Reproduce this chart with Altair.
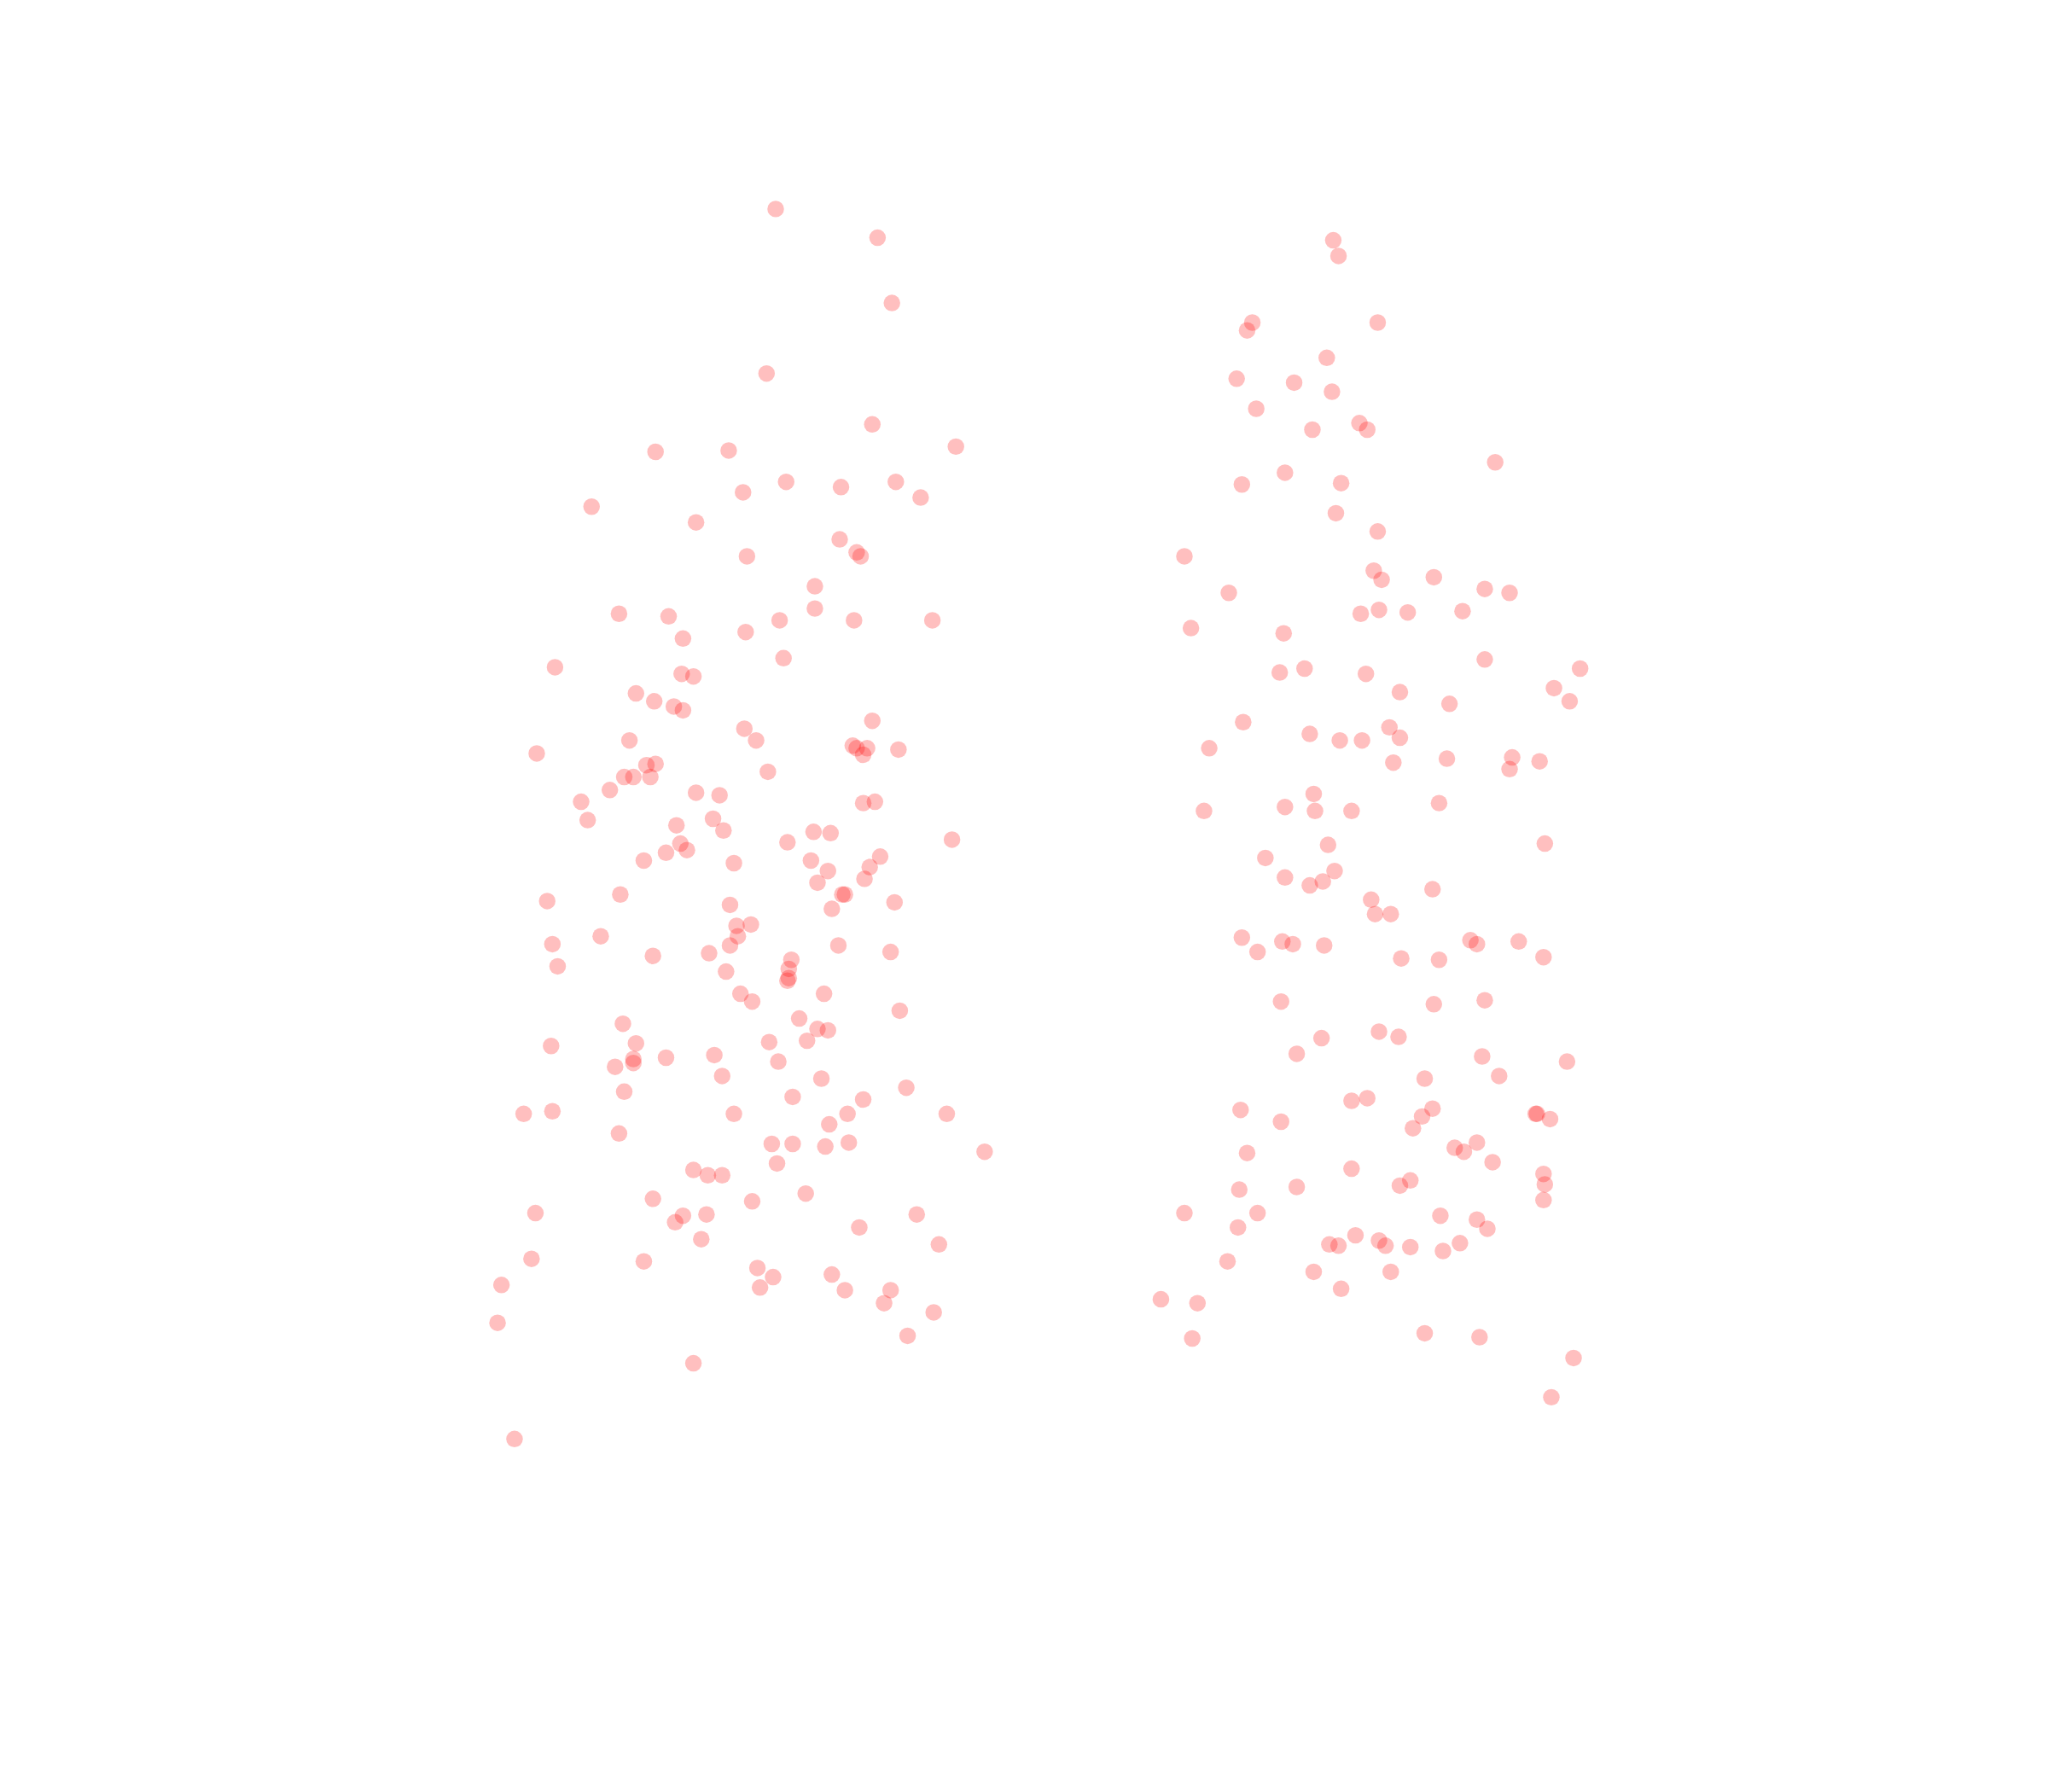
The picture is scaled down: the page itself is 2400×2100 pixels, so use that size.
import altair as alt
import pandas as pd

# Group A: (jitter, value)
A_JITTER = [26,104,115,19,100,-66,-10,164,34,1,76,118,137,-115,-35,75,88,91,4,56,
            -94,-56,29,56,86,146,-45,3,32,-143,-46,-37,-81,-67,-52,-45,2,11,100,-86,
            85,88,93,96,120,-157,-73,-66,-90,-83,-70,20,-101,-35,-17,-123,93,102,-118,-22,
            -14,-50,55,68,161,35,-47,-58,-42,-75,53,106,-6,66,98,94,58,-93,77,79,
            -149,-9,117,69,7,-4,-3,-108,-145,-9,74,114,-25,-68,38,-141,36,-12,35,36,
            -1,63,8,121,44,-91,58,66,-81,-146,21,50,-21,-58,-83,28,-83,-97,-15,61,
            -90,126,39,93,-167,-145,-6,81,157,67,-94,23,39,64,82,186,27,-37,-26,-15,
            49,-68,8,-158,-45,-27,134,-51,90,-31,151,-161,-75,12,24,69,-184,14,79,114,
            109,147,-187,127,-37,-174]
A_VALUE = [107.1,104.9,99.9,94.5,90.6,88.5,88.6,88.9,86.2,85.4,85.8,86.2,85.0,84.3,83.1,81.8,80.8,80.5,80.5,78.2,
           76.1,75.9,75.6,76.5,75.6,75.6,74.2,74.7,72.7,72.0,71.5,71.3,70.0,69.4,69.0,68.7,67.3,66.4,67.9,66.4,
           66.0,65.8,65.3,65.8,65.7,65.4,64.5,64.6,63.6,63.6,63.6,64.0,62.6,62.4,62.2,61.7,61.6,61.7,60.3,60.4,
           59.5,59.9,59.4,59.3,58.8,58.6,58.5,57.8,58.0,57.2,57.2,57.5,57.0,56.4,56.7,55.8,55.5,54.6,54.6,54.6,
           54.1,53.8,54.0,53.5,52.3,52.2,51.4,51.4,50.8,50.7,50.7,50.2,50.1,49.9,49.6,49.1,48.9,48.7,48.0,48.2,
           47.0,47.0,46.4,45.7,45.1,44.7,44.3,44.2,43.2,43.0,43.3,43.4,42.3,42.1,42.0,41.8,41.7,41.4,40.7,40.5,
           39.5,39.8,39.1,38.9,37.8,38.0,37.8,37.8,37.8,37.0,36.3,35.5,35.5,35.3,35.6,34.9,34.0,33.5,33.1,33.1,
           31.7,31.3,31.1,30.2,30.0,30.1,30.1,29.5,29.1,28.2,27.8,26.7,26.5,26.0,25.3,25.5,24.7,24.5,24.3,24.3,
           23.3,22.6,21.8,20.8,18.7,12.9]

# Group B: (jitter, value)
B_JITTER = [-29,-25,-91,-95,5,-34,-103,-59,-30,-88,-9,-3,-45,95,-66,-99,-23,-27,5,-143,
            2,8,48,-109,87,106,-8,6,28,70,-138,-67,87,-70,-51,-4,160,140,152,22,
            60,-98,14,22,-47,-24,-7,-124,58,108,129,17,106,-44,52,-128,-66,-43,-15,133,
            -33,-81,-28,-66,-37,-47,47,0,3,15,-99,-68,-60,-36,76,81,113,-87,23,52,
            132,-69,48,87,6,21,-38,-57,85,150,98,41,-15,-3,-100,47,39,-69,126,127,
            137,32,81,64,71,-95,93,-15,132,133,132,-57,22,30,-101,-143,-87,53,81,-102,
            89,-12,-32,-25,6,11,30,68,55,-110,-44,15,-23,-161,-133,-137,41,83,155,138]
B_VALUE = [104.7,103.5,98.4,97.8,98.4,95.7,94.1,93.8,93.1,91.8,90.7,90.2,90.2,87.7,86.9,86.0,86.1,83.8,82.4,80.5,
           79.4,78.7,78.9,77.7,78.0,77.7,76.1,76.4,76.2,76.3,75.0,74.6,72.6,71.6,71.9,71.5,71.9,70.4,69.4,70.1,
           69.2,67.8,67.4,66.6,66.9,66.4,66.4,65.8,65.0,65.1,64.8,64.7,64.2,62.3,61.6,61.0,61.3,61.0,61.0,58.5,
           58.4,57.4,56.4,55.9,55.6,55.3,55.0,54.2,53.1,53.1,51.3,51.0,50.8,50.7,51.1,50.8,51.0,50.2,49.7,49.6,
           49.8,46.4,46.2,46.5,44.1,43.7,43.6,42.4,42.2,41.8,40.7,40.5,38.8,39.0,38.1,38.2,37.6,37.2,37.8,37.8,
           37.4,36.7,35.6,35.2,34.9,34.8,34.1,33.6,33.2,32.4,31.2,32.2,32.3,32.7,32.0,30.2,30.2,30.0,29.7,29.1,
           29.0,28.5,27.8,27.7,28.1,27.7,27.6,27.9,27.3,26.5,25.7,25.7,24.4,23.6,23.3,20.6,21.0,20.7,19.1,16.1]

GROUPS = ["A", "B"]
GROUP_SPACING = 482

rows = []
for gi, (g, js, vs) in enumerate([("A", A_JITTER, A_VALUE), ("B", B_JITTER, B_VALUE)]):
    for j, v in zip(js, vs):
        rows.append({"group": g, "gidx": gi, "jitter": j, "value": v})
df = pd.DataFrame(rows)

chart = (
    alt.Chart(df)
    .transform_calculate(xpos=f"datum.gidx * {GROUP_SPACING} + datum.jitter")
    .mark_circle(size=380, opacity=0.25, color="red")
    .encode(
        x=alt.X("xpos:Q", axis=None, scale=alt.Scale(domain=[-562.8, 995.1], nice=False, zero=False)),
        y=alt.Y("value:Q", axis=None, scale=alt.Scale(domain=[-13.61, 122.58], nice=False, zero=False)),
    )
    .properties(width=2384, height=2084, padding=0, background="white")
    .configure_view(stroke=None)
)

chart.save("out.html", embed_options={"renderer": "svg", "actions": False})
